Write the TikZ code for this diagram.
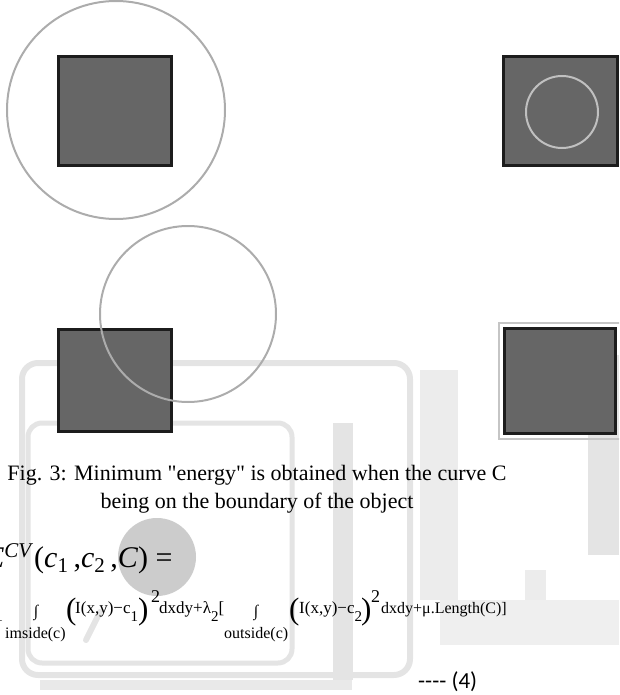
\documentclass[tikz,border=0pt]{standalone}
\usepackage{fontspec}
\setmainfont{Liberation Serif}[Ligatures=TeXOff]
\newfontfamily\calibfont{Carlito}[Ligatures=TeXOff]
\usetikzlibrary{positioning}
\definecolor{cvBlob}{RGB}{102,102,102}
\definecolor{cvEdge}{RGB}{28,28,28}
\definecolor{cvCurve}{RGB}{172,172,172}
\definecolor{cvInner}{RGB}{192,192,192}
\definecolor{cvMark}{RGB}{228,228,228}
\definecolor{cvDot}{RGB}{204,204,204}
\newcommand{\fs}[1]{\fontsize{#1}{#1}\selectfont}
\newcommand{\lowsub}[1]{\raisebox{-8pt}{\fs{15}#1}}

\begin{document}
\begin{tikzpicture}[x=1pt, y=-1pt, line cap=round,
    blob/.style={fill=cvBlob, draw=cvEdge, line width=2.6pt, line join=miter},
    curve/.style={draw=cvCurve, line width=2pt},
    wmark/.style={draw=cvMark, line width=6pt, rounded corners=16pt},
    eqbit/.style={inner sep=0pt, anchor=base west, font=\fs{17}}]
  \useasboundingbox (0,0) rectangle (619,695);
  \clip (0,0) rectangle (619,695);

  % faint watermark behind everything
  \fill[cvMark!60] (440,600) rectangle (619,645);
  \fill[cvMark!70] (420,370) rectangle (458,600);
  \fill[cvMark] (588,355) rectangle (619,555);
  \fill[cvMark!70] (525,570) rectangle (546,600);
  \fill[cvMark!80] (40,680) rectangle (352,690);
  \draw[wmark] (22,363) rectangle (410,675);
  \draw[wmark, line width=5pt, rounded corners=14pt] (28,423) rectangle (292,663);
  \fill[cvMark] (333,423) rectangle (353,680);
  \draw[cvMark, line width=6pt] (100,612) -- (86,640);
  \fill[cvDot] (157,557) circle (39pt);

  % four panels
  \draw[curve] (116,110) circle (109pt);
  \draw[blob] (58.3,56.3) rectangle (171.7,165.7);

  \draw[blob] (503.3,56.3) rectangle (617.7,165.7);
  \draw[draw=cvInner, line width=2pt] (562,112) circle (36pt);

  \draw[blob] (58.3,329.3) rectangle (171.7,431.7);
  \draw[curve] (188,314) circle (88pt);

  \draw[cvCurve!70, line width=1.6pt] (499,323) rectangle (622,439);
  \draw[blob] (504.3,328.3) rectangle (615.7,433.7);

  % caption
  \node[inner sep=0pt, anchor=base, font=\fs{22}] (capA) at (257,480)
    {Fig. 3: Minimum "energy" is obtained when the curve C};
  \node[inner sep=0pt, anchor=base, font=\fs{22}] (capB) at (257,508)
    {being on the boundary of the object};

  % energy equation
  \node[inner sep=0pt, anchor=base east, font=\fs{30}] (eqE) at (34,567)
    {\textit{E}\textsuperscript{\textit{CV}}};
  \node[inner sep=0pt, anchor=base west, font=\fs{30}] (eqArgs) at (34,567)
    {(\textit{c}\textsubscript{1}\,,\textit{c}\textsubscript{2}\,,\textit{C}) =};

  \node[eqbit, font=\fs{16}] (lamA) at (-5,621) {1};
  \node[eqbit, anchor=base, font=\fs{16}] (intA) at (36,616) {∫};
  \node[eqbit, font=\fs{16}] (subA) at (5,638) {imside(c)};
  \node[eqbit, font=\fs{31}] (parA) at (66,619) {(};
  \node[eqbit] (bodyA) at (75,613) {I(x,y)−c\lowsub{1}};
  \node[eqbit, font=\fs{31}] (parB) at (138,619) {)};
  \node[eqbit, font=\fs{18}] (supA) at (151,602) {2};
  \node[eqbit] (bodyB) at (159,613) {dxdy+λ\lowsub{2}[};
  \node[eqbit, anchor=base, font=\fs{16}] (intB) at (256,616) {∫};
  \node[eqbit, font=\fs{16}] (subB) at (224,638) {outside(c)};
  \node[eqbit, font=\fs{31}] (parC) at (289,619) {(};
  \node[eqbit] (bodyC) at (299,613) {I(x,y)−c\lowsub{2}};
  \node[eqbit, font=\fs{31}] (parD) at (361,619) {)};
  \node[eqbit, font=\fs{18}] (supB) at (371,602) {2};
  \node[eqbit, font=\fs{16}] (bodyD) at (381,613) {dxdy+μ.Length(C)]};

  \node[inner sep=0pt, anchor=base west, font=\calibfont\fs{23}] (eqNum) at (418,688) {---- (4)};
\end{tikzpicture}
\end{document}
